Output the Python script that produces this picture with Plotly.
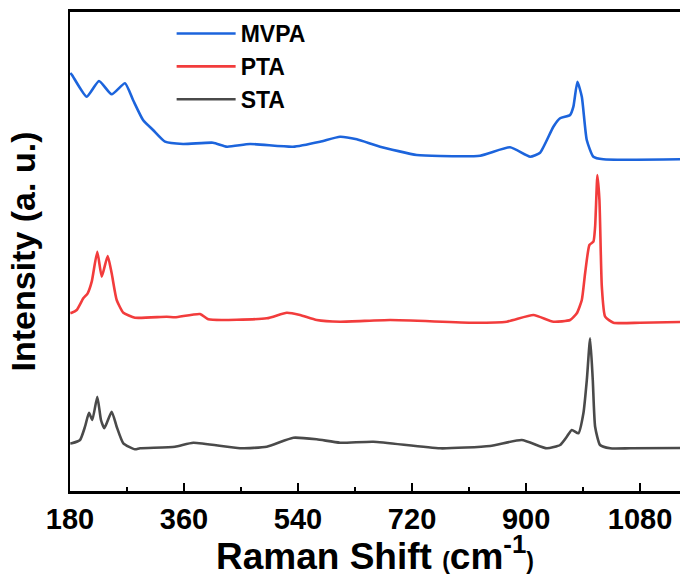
import plotly.graph_objects as go

# Raman shift (cm-1) and intensity (a.u., stacked offsets as plotted)
mvpa_x = [180.5, 183.2, 206.4, 225.8, 245.8, 266.8, 279.5, 295.3, 311.1, 330.0, 358.5, 405.8, 427.9,
          464.2, 532.1, 574.7, 606.3, 632.7, 669.5, 727.4, 764.2, 827.4, 874.7, 906.3, 922.1,
          943.1, 953.7, 969.5, 974.7, 981.0, 988.0, 995.8, 1006.2, 1022.0, 1143.0]
mvpa_y = [418, 416, 394.3, 410, 396.7, 407.7, 391, 371, 361, 349.3, 347, 348.3, 344.3,
          347, 344.3, 349.3, 354.3, 351.7, 344.3, 336, 335, 335.3, 343.7, 334.3, 338.3,
          364.3, 372.7, 376, 384.3, 409.3, 394.3, 351, 334.3, 331.7, 331.7]

pta_x = [180.5, 182.7, 190.6, 201.0, 207.9, 214.3, 223.1, 230.1, 239.5, 245.8, 253.7, 264.2, 282.6,
         332.7, 345.8, 385.3, 398.4, 490.6, 522.2, 543.2, 569.5, 606.3, 685.3, 816.8, 869.5,
         911.6, 943.1, 969.5, 980.1, 988.0, 993.2, 1000.0, 1006.3, 1009.0, 1012.6, 1015.8,
         1019.6, 1024.8, 1037.9, 1080.0, 1143.0]
pta_y = [178, 178.3, 181, 192.7, 197.7, 209.3, 239.3, 214.3, 235, 217.7, 191, 178.3, 173.3,
         174.3, 173.7, 177, 171.7, 172.7, 178.3, 176, 171, 169.3, 171, 168.3, 169.3,
         176, 169.3, 171, 177.7, 191, 217.7, 246, 249.3, 264.3, 316, 291,
         204.3, 174.3, 168.3, 168.3, 169]

sta_x = [180.5, 182.7, 195.8, 203.7, 210.0, 215.2, 223.1, 228.9, 234.2, 245.8, 253.7, 264.2, 282.6,
         290.5, 345.8, 374.7, 448.4, 490.6, 532.6, 569.5, 606.3, 658.9, 764.2, 843.2, 893.2,
         932.7, 953.7, 964.3, 972.2, 982.6, 990.5, 995.9, 1001.1, 1005.3, 1009.0, 1016.8,
         1032.7, 1064.2, 1143.0]
sta_y = [47.5, 47.7, 51, 64.3, 78.3, 71, 94.3, 71, 62.7, 79.3, 64.3, 47.7, 41.7,
         42.7, 44.3, 48.3, 42.7, 44.3, 53.3, 51.7, 48.3, 49.3, 42.7, 45, 51,
         42.7, 46, 54.3, 61, 57.7, 77.7, 111, 152.7, 111, 64.3, 46,
         42.7, 42.7, 43]

series_names = ["MVPA", "PTA", "STA"]
series_colors = ["#1c64dc", "#f23c3c", "#4a4a4a"]

x_ticks = [180, 360, 540, 720, 900, 1080]

FONT = "Liberation Sans, Arial, sans-serif"

fig = go.Figure()
for name, xs, ys, col in zip(series_names, [mvpa_x, pta_x, sta_x], [mvpa_y, pta_y, sta_y], series_colors):
    fig.add_trace(go.Scatter(x=xs, y=ys, mode="lines", name=name,
                             line=dict(color=col, width=2.6, shape="spline", smoothing=0.5)))

fig.update_layout(
    width=680, height=577,
    margin=dict(l=70, r=0, t=12, b=86),
    paper_bgcolor="white", plot_bgcolor="white",
    font=dict(family=FONT, color="black", weight="bold"),
    showlegend=True,
    legend=dict(x=0.1666, y=1.0, xanchor="left", yanchor="top",
                font=dict(family=FONT, size=23, color="black", weight="bold"),
                bgcolor="rgba(0,0,0,0)", borderwidth=0, itemwidth=59,
                tracegroupgap=0),
    xaxis=dict(range=[180, 1143], tickvals=x_ticks, ticktext=[str(v) for v in x_ticks],
               ticks="inside", ticklen=8, tickwidth=2, tickcolor="black",
               minor=dict(ticks="inside", ticklen=4, tickwidth=2, tickcolor="black", dtick=90, tick0=180),
               showline=True, linewidth=2.5, linecolor="black", mirror=True,
               showgrid=False, zeroline=False,
               tickfont=dict(family=FONT, size=29, color="black", weight="bold"),
               ticklabelstandoff=0,
               title=dict(text="Raman Shift <span style='font-size:23px'>(</span>cm<sup>-1</sup><span style='font-size:23px'>)</span>",
                          font=dict(family=FONT, size=37, color="black", weight="bold"),
                          standoff=16)),
    yaxis=dict(range=[0, 479], showticklabels=False, ticks="",
               showline=True, linewidth=2, linecolor="black", mirror=False,
               showgrid=False, zeroline=False,
               title=dict(text="Intensity (a. u.)",
                          font=dict(family=FONT, size=34, color="black", weight="bold"),
                          standoff=22)),
)

fig.write_html("out.html")
